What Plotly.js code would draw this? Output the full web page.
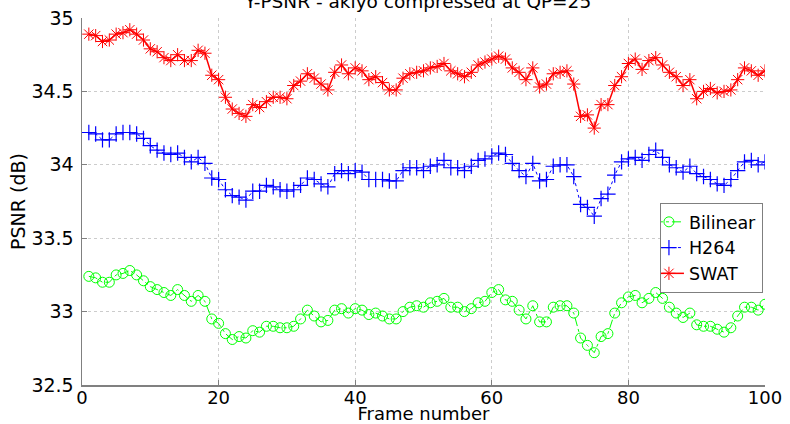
<!DOCTYPE html>
<html>
<head>
<meta charset="utf-8">
<script src="https://cdn.plot.ly/plotly-3.0.1.min.js"></script>
<style>
html,body{margin:0;padding:0;background:#fff;}
#chart{width:790px;height:424px;}
</style>
</head>
<body>
<div id="chart"></div>
<script>
const frames = [1,2,3,4,5,6,7,8,9,10,11,12,13,14,15,16,17,18,19,20,
21,22,23,24,25,26,27,28,29,30,31,32,33,34,35,36,37,38,39,40,
41,42,43,44,45,46,47,48,49,50,51,52,53,54,55,56,57,58,59,60,
61,62,63,64,65,66,67,68,69,70,71,72,73,74,75,76,77,78,79,80,
81,82,83,84,85,86,87,88,89,90,91,92,93,94,95,96,97,98,99,100];

const bilinear = [33.24,33.23,33.20,33.20,33.25,33.26,33.28,33.25,33.21,33.17,
33.15,33.13,33.11,33.15,33.11,33.07,33.11,33.07,32.95,32.92,
32.85,32.81,32.83,32.82,32.87,32.86,32.90,32.90,32.89,32.89,
32.90,32.95,33.01,32.97,32.93,32.94,33.01,33.02,32.99,33.02,
33.01,32.98,32.99,32.97,32.95,32.95,33.00,33.03,33.04,33.03,
33.06,33.07,33.09,33.03,33.03,33.00,33.02,33.06,33.07,33.13,
33.15,33.08,33.07,33.01,32.95,33.04,32.93,32.93,33.03,33.04,
33.04,32.99,32.82,32.77,32.72,32.83,32.85,32.99,33.06,33.10,
33.11,33.06,33.09,33.13,33.09,33.03,32.99,32.96,32.99,32.91,
32.90,32.90,32.88,32.86,32.89,32.97,33.03,33.03,33.01,33.05];

const h264 = [34.22,34.21,34.17,34.17,34.21,34.22,34.22,34.21,34.18,34.13,
34.10,34.08,34.07,34.08,34.05,34.02,34.05,34.01,33.91,33.90,
33.83,33.79,33.78,33.76,33.82,33.82,33.86,33.85,33.83,33.82,
33.83,33.86,33.91,33.90,33.87,33.85,33.94,33.96,33.94,33.96,
33.95,33.90,33.90,33.90,33.89,33.89,33.96,33.98,33.98,33.96,
33.99,34.00,34.03,33.98,33.98,33.96,33.99,34.03,34.04,34.06,
34.08,34.07,34.01,33.96,33.92,34.01,33.89,33.90,33.99,34.00,
34.00,33.92,33.73,33.71,33.65,33.77,33.80,33.93,34.02,34.04,
34.05,34.03,34.07,34.10,34.05,34.00,33.98,33.95,33.99,33.94,
33.92,33.90,33.87,33.86,33.90,33.96,34.02,34.03,34.00,34.02];

const swat = [34.89,34.88,34.84,34.85,34.89,34.90,34.92,34.89,34.85,34.79,
34.77,34.73,34.71,34.75,34.71,34.71,34.78,34.76,34.61,34.58,
34.46,34.38,34.35,34.33,34.41,34.39,34.43,34.46,34.46,34.45,
34.54,34.57,34.62,34.59,34.55,34.51,34.63,34.68,34.62,34.66,
34.64,34.58,34.60,34.56,34.51,34.51,34.59,34.62,34.63,34.64,
34.66,34.67,34.69,34.64,34.62,34.60,34.63,34.68,34.70,34.72,
34.74,34.72,34.66,34.63,34.58,34.66,34.53,34.55,34.62,34.63,
34.64,34.55,34.33,34.34,34.25,34.41,34.41,34.54,34.60,34.69,
34.72,34.65,34.71,34.73,34.68,34.63,34.60,34.54,34.58,34.45,
34.50,34.52,34.49,34.50,34.51,34.58,34.66,34.64,34.61,34.64];

const seriesNames = ["Bilinear", "H264", "SWAT"];
const xTickVals = [0, 20, 40, 60, 80, 100];
const yTickVals = [32.5, 33, 33.5, 34, 34.5, 35];
const yTickText = ["32.5", "33", "33.5", "34", "34.5", "35"];
const titleText = "Y-PSNR - akiyo compressed at QP=25";
const xTitle = "Frame number";
const yTitle = "PSNR (dB)";

const FONT = "'DejaVu Sans', Verdana, sans-serif";

const traces = [
  {
    x: frames, y: bilinear, name: seriesNames[0], type: "scatter", mode: "lines+markers",
    line: {color: "#00ff00", width: 1, dash: "dashdot"},
    marker: {symbol: "circle-open", size: 10, color: "#00ff00", line: {width: 1, color: "#00ff00"}}
  },
  {
    x: frames, y: h264, name: seriesNames[1], type: "scatter", mode: "lines+markers",
    line: {color: "#0000ff", width: 1, dash: "dot"},
    marker: {symbol: "cross-thin-open", size: 11, color: "#0000ff", line: {width: 1.2, color: "#0000ff"}}
  },
  {
    x: frames, y: swat, name: seriesNames[2], type: "scatter", mode: "lines+markers",
    line: {color: "#ff0000", width: 1.5},
    marker: {symbol: "asterisk-open", size: 11, color: "#ff0000", line: {width: 1, color: "#ff0000"}}
  }
];

const layout = {
  width: 790, height: 424,
  margin: {l: 82, r: 25, t: 18, b: 39},
  paper_bgcolor: "#ffffff",
  plot_bgcolor: "#ffffff",
  font: {family: FONT, size: 18, color: "#000000"},
  title: {
    text: titleText,
    font: {family: FONT, size: 18.5, color: "#000000"},
    x: 0.529, xref: "container", xanchor: "center",
    y: 1, yref: "paper", yanchor: "bottom",
    pad: {b: 10}
  },
  showlegend: true,
  legend: {
    x: 0.997, y: 0.496, xanchor: "right", yanchor: "top",
    bgcolor: "#ffffff", bordercolor: "#7f7f7f", borderwidth: 1,
    font: {family: FONT, size: 17.5, color: "#000000"},
    itemwidth: 30, tracegroupgap: 0, indentation: -12
  },
  xaxis: {
    range: [0, 100],
    tickmode: "array", tickvals: xTickVals,
    ticks: "inside", ticklen: 5, tickcolor: "#808080", tickwidth: 1,
    showline: true, linecolor: "#808080", linewidth: 1.5,
    showgrid: true, gridcolor: "#cccccc", griddash: "dot", gridwidth: 1,
    zeroline: false,
    ticklabelstandoff: -4,
    tickfont: {family: FONT, size: 18},
    title: {text: xTitle, font: {family: FONT, size: 18}, standoff: 0}
  },
  xaxis2: {
    range: [0, 100], overlaying: "x", side: "top",
    tickmode: "array", tickvals: xTickVals,
    ticks: "inside", ticklen: 5, tickcolor: "#808080",
    showticklabels: false, showline: false, showgrid: false, zeroline: false
  },
  yaxis: {
    range: [32.5, 35],
    tickmode: "array", tickvals: yTickVals, ticktext: yTickText,
    ticks: "inside", ticklen: 5, tickcolor: "#808080", tickwidth: 1,
    showline: true, linecolor: "#808080", linewidth: 1.5,
    showgrid: true, gridcolor: "#cccccc", griddash: "dot", gridwidth: 1,
    zeroline: false,
    ticklabelstandoff: 3,
    tickfont: {family: FONT, size: 19},
    title: {text: yTitle, font: {family: FONT, size: 19}, standoff: 0}
  }
};

Plotly.newPlot("chart", traces, layout, {staticPlot: true, displayModeBar: false});
</script>
</body>
</html>
